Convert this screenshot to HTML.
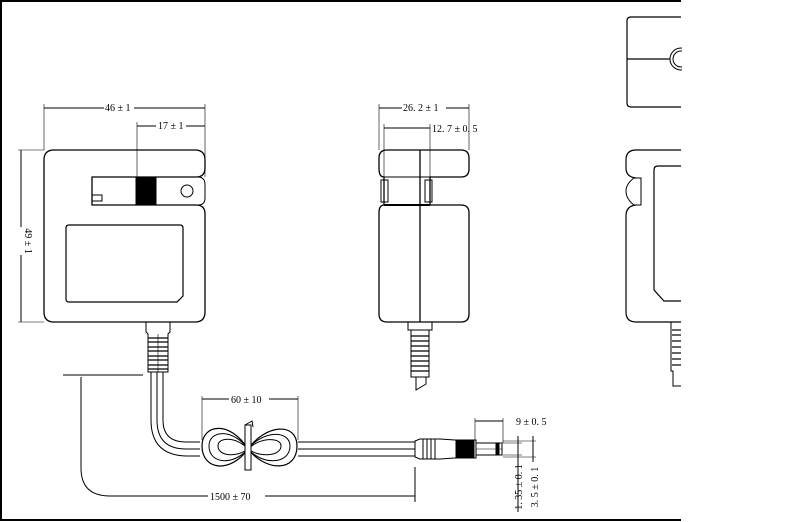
<!DOCTYPE html>
<html><head><meta charset="utf-8"><style>
html,body{margin:0;padding:0;background:#fff;width:800px;height:522px;overflow:hidden}
svg{display:block}
text{font-family:"Liberation Serif",serif;font-size:10px;fill:#000;stroke:none}
</style></head><body>
<svg width="800" height="522" viewBox="0 0 800 522" xmlns="http://www.w3.org/2000/svg" fill="none" stroke="#000" stroke-width="1">
<line x1="0" y1="1" x2="681" y2="1" stroke-width="2"/>
<line x1="0" y1="520" x2="681" y2="520" stroke-width="2"/>
<line x1="1" y1="0" x2="1" y2="521" stroke-width="2"/>

<path d="M54,150 H195 Q205,150 205,160 V168 Q205,177 196,177 H92 V205 H196 Q205,205 205,214 V312 Q205,322 195,322 H54 Q44,322 44,312 V160 Q44,150 54,150 Z" stroke-width="1.3"/>
<path d="M92,177 H198 Q205,177 205,185 V198 Q205,205 198,205" />
<rect x="136" y="177" width="20" height="28" fill="#000"/>
<circle cx="187" cy="191" r="6"/>
<rect x="92" y="195" width="10" height="6"/>
<path d="M69,225 H180 Q183,225 183,228 V296 L177,302 H69 Q66,302 66,299 V228 Q66,225 69,225 Z" stroke-width="1.2"/>
<line x1="44" y1="108" x2="205" y2="108"/>
<line x1="44" y1="104" x2="44" y2="150" stroke-width="0.6"/>
<line x1="205" y1="104" x2="205" y2="177" stroke-width="0.6"/>
<rect x="104" y="102" width="30" height="11" fill="#fff" stroke="none"/>
<text x="105" y="111">46 ± 1</text>
<line x1="137" y1="126" x2="205" y2="126"/>
<line x1="137" y1="122" x2="137" y2="177" stroke-width="0.6"/>
<rect x="156" y="120" width="30" height="11" fill="#fff" stroke="none"/>
<text x="158" y="129">17 ± 1</text>
<line x1="21" y1="150" x2="21" y2="322"/>
<line x1="18" y1="150" x2="44" y2="150" stroke-width="0.6"/>
<line x1="18" y1="322" x2="44" y2="322" stroke-width="0.6"/>
<rect x="15" y="227" width="12" height="28" fill="#fff" stroke="none"/>
<text transform="translate(25,241) rotate(90)" text-anchor="middle">49 ± 1</text>
<path d="M146,322 V332 L148,334 V372 H168 V334 L170,332 V322"/>
<g stroke-width="1.3">
<line x1="148" y1="338" x2="168" y2="338"/><line x1="148" y1="342" x2="168" y2="342"/>
<line x1="148" y1="347" x2="168" y2="347"/><line x1="148" y1="351" x2="168" y2="351"/>
<line x1="148" y1="356" x2="168" y2="356"/><line x1="148" y1="360" x2="168" y2="360"/>
<line x1="148" y1="365" x2="168" y2="365"/><line x1="148" y1="369" x2="168" y2="369"/>
</g>
<line x1="158" y1="334" x2="158" y2="372" stroke-width="0.6"/>
<path d="M151,372 V420 Q151,455 186,456 H415"/>
<path d="M157,372 V420 Q157,449 186,449 H415"/>
<path d="M163,372 V420 Q163,442 186,442 H415"/>
<rect x="200" y="440" width="98" height="18" fill="#fff" stroke="none"/>
<path d="M248,449 C230,420 202,424 202,446 C202,470 230,474 248,449 C266,424 297,422 297,446 C297,472 266,472 248,449 Z" stroke-width="1.2"/>
<path d="M248,449 C233,428 209,430 209,446 C209,464 233,466 248,449 C263,430 290,430 290,446 C290,464 263,466 248,449 Z"/>
<path d="M248,449 C236,436 218,437 218,446 C218,456 236,458 248,449 C260,437 281,437 281,446 C281,456 260,458 248,449 Z"/>
<rect x="245" y="425" width="6" height="45" fill="#fff"/>
<path d="M245,425 L252,421 L253,427"/>
<line x1="202" y1="399" x2="298" y2="399"/>
<line x1="202" y1="396" x2="202" y2="440" stroke-width="0.6"/>
<line x1="298" y1="396" x2="298" y2="440" stroke-width="0.6"/>
<rect x="229" y="394" width="40" height="11" fill="#fff" stroke="none"/>
<text x="231" y="403">60 ± 10</text>
<path d="M415,441 L420,439 H440 L455,440 H476 V458 H455 L440,459 H420 L415,457 Z" fill="#fff"/>
<line x1="423" y1="439" x2="423" y2="459"/><line x1="427" y1="439" x2="427" y2="459"/>
<line x1="431" y1="439" x2="431" y2="459"/><line x1="435" y1="439" x2="435" y2="459"/>
<rect x="456" y="440" width="18" height="18" fill="#000"/>
<path d="M476,443 H502 V455 H476"/>
<line x1="476" y1="449" x2="502" y2="449" stroke-width="0.6"/>
<rect x="496" y="443" width="3" height="12" fill="#000"/>
<line x1="475" y1="421" x2="503" y2="421"/>
<line x1="475" y1="418" x2="475" y2="440" stroke-width="0.6"/>
<line x1="503" y1="418" x2="503" y2="443" stroke-width="0.6"/>
<text x="516" y="425">9 ± 0. 5</text>
<line x1="503" y1="443" x2="522" y2="443" stroke-width="0.6"/>
<line x1="503" y1="455" x2="522" y2="455" stroke-width="0.6"/>
<line x1="503" y1="441" x2="536" y2="441" stroke-width="0.6"/>
<line x1="503" y1="457" x2="536" y2="457" stroke-width="0.6"/>
<line x1="518" y1="436" x2="518" y2="512"/>
<line x1="533" y1="436" x2="533" y2="462"/>
<text transform="translate(522,487) rotate(-90)" text-anchor="middle">1. 35 ± 0. 1</text>
<text transform="translate(538,487) rotate(-90)" text-anchor="middle">3. 5 ± 0. 1</text>
<line x1="63" y1="375" x2="143" y2="375"/>
<path d="M81,377 V468 Q81,496 110,496 H208"/>
<line x1="265" y1="496" x2="415" y2="496"/>
<line x1="415" y1="467" x2="415" y2="502"/>
<text x="210" y="500">1500 ± 70</text>

<path d="M387,150 H461 Q469,150 469,158 V169 Q469,177 461,177 H430 V205 H461 Q469,205 469,213 V314 Q469,322 461,322 H387 Q379,322 379,314 V213 Q379,205 384,205 V177 Q379,177 379,169 V158 Q379,150 387,150 Z" stroke-width="1.3"/>
<line x1="420" y1="150" x2="420" y2="322" stroke-width="1.3"/>
<line x1="384" y1="177" x2="430" y2="177"/>
<line x1="384" y1="205" x2="430" y2="205" stroke-width="2"/>
<rect x="381" y="180" width="7" height="22"/><rect x="425" y="180" width="7" height="22"/>
<line x1="379" y1="108" x2="469" y2="108"/>
<line x1="379" y1="104" x2="379" y2="150" stroke-width="0.6"/>
<line x1="469" y1="104" x2="469" y2="150" stroke-width="0.6"/>
<rect x="402" y="102" width="44" height="11" fill="#fff" stroke="none"/>
<text x="403" y="111">26. 2 ± 1</text>
<line x1="384" y1="128" x2="430" y2="128"/>
<line x1="384" y1="124" x2="384" y2="177" stroke-width="0.6"/>
<line x1="430" y1="124" x2="430" y2="177" stroke-width="0.6"/>
<text x="432" y="132">12. 7 ± 0. 5</text>
<path d="M408,322 V330 H432 V322"/>
<path d="M411,330 V377 H429 V330"/>
<g stroke-width="1.3">
<line x1="411" y1="336" x2="429" y2="336"/><line x1="411" y1="341" x2="429" y2="341"/>
<line x1="411" y1="346" x2="429" y2="346"/><line x1="411" y1="351" x2="429" y2="351"/>
<line x1="411" y1="356" x2="429" y2="356"/><line x1="411" y1="361" x2="429" y2="361"/>
<line x1="411" y1="366" x2="429" y2="366"/><line x1="411" y1="371" x2="429" y2="371"/>
</g>
<path d="M416,377 V390 L426,384 V377"/>

<g>
<path d="M681,17 H631 Q627,17 627,21 V103 Q627,107 631,107 H681" stroke-width="1.2"/>
<line x1="627" y1="59" x2="670" y2="59" stroke-width="1.3"/>
<circle cx="681" cy="59" r="11"/><circle cx="681" cy="59" r="8"/>
<path d="M681,150 H636 Q626,150 626,160 V168 Q626,177 636,178 M636,205 Q626,206 626,216 V312 Q626,322 636,322 H681" stroke-width="1.2"/>
<path d="M641,178 H634 Q626,184 626,191 Q626,199 634,205 H641 Z"/>
<path d="M681,166 H658 Q654,166 654,170 V290 L664,301 H681" stroke-width="1.2"/>
<path d="M671,322 V371 H673 V386 H681"/>
<g stroke-width="1.2">
<line x1="672" y1="330" x2="681" y2="330"/><line x1="672" y1="335" x2="681" y2="335"/>
<line x1="672" y1="341" x2="681" y2="341"/><line x1="672" y1="347" x2="681" y2="347"/>
<line x1="672" y1="353" x2="681" y2="353"/><line x1="672" y1="359" x2="681" y2="359"/>
<line x1="672" y1="365" x2="681" y2="365"/>
</g>
</g>
<rect x="682" y="0" width="118" height="522" fill="#fff" stroke="none"/>
</svg>
</body></html>
